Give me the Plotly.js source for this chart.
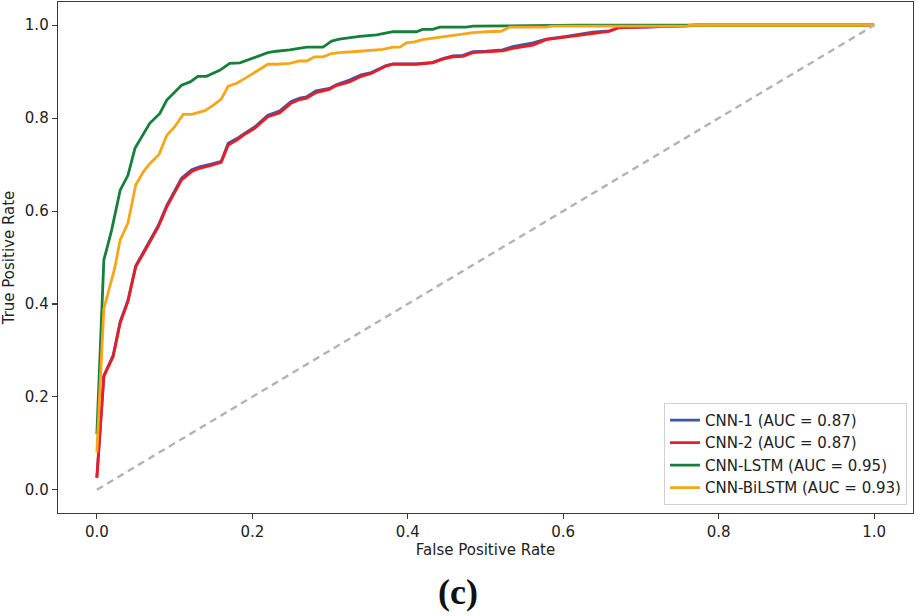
<!DOCTYPE html>
<html>
<head>
<meta charset="utf-8">
<script src="https://cdn.plot.ly/plotly-3.0.1.min.js"></script>
<style>html,body{margin:0;padding:0;background:#fff;}#chart{width:918px;height:616px;}</style>
</head>
<body>
<div id="chart"></div>
<script>
// ---- data ----
const cnn1Fpr = [0,0.009,0.021,0.030,0.040,0.050,0.060,0.070,0.079,0.090,0.109,0.122,0.132,0.147,0.160,0.169,0.180,0.192,0.203,0.220,0.235,0.250,0.261,0.270,0.282,0.299,0.308,0.325,0.340,0.353,0.372,0.381,0.411,0.432,0.445,0.458,0.471,0.484,0.501,0.522,0.535,0.561,0.578,0.604,0.638,0.659,0.672,0.706,0.753,0.77,1];
const cnn1Tpr = [0.026,0.246,0.290,0.362,0.408,0.482,0.512,0.541,0.569,0.612,0.671,0.689,0.695,0.701,0.707,0.746,0.756,0.769,0.781,0.806,0.815,0.836,0.843,0.846,0.859,0.864,0.872,0.882,0.893,0.898,0.913,0.917,0.917,0.920,0.928,0.934,0.935,0.943,0.944,0.947,0.954,0.962,0.970,0.976,0.985,0.988,0.995,0.996,0.998,1.0,1.0];
const cnn2Fpr = [0,0.009,0.021,0.030,0.040,0.050,0.060,0.070,0.079,0.090,0.109,0.122,0.132,0.147,0.160,0.169,0.180,0.192,0.203,0.220,0.235,0.250,0.261,0.270,0.282,0.299,0.308,0.325,0.340,0.353,0.372,0.381,0.411,0.432,0.445,0.458,0.471,0.484,0.501,0.522,0.535,0.561,0.578,0.604,0.638,0.659,0.672,0.706,0.753,0.77,1];
const cnn2Tpr = [0.026,0.244,0.287,0.359,0.405,0.480,0.509,0.538,0.566,0.609,0.667,0.685,0.692,0.698,0.705,0.742,0.753,0.767,0.778,0.803,0.811,0.832,0.840,0.843,0.855,0.862,0.870,0.878,0.890,0.896,0.912,0.916,0.916,0.919,0.927,0.932,0.933,0.941,0.943,0.945,0.950,0.957,0.969,0.975,0.983,0.987,0.995,0.996,0.998,1.0,1.0];
const lstmFpr = [0,0.009,0.013,0.019,0.030,0.040,0.049,0.068,0.081,0.090,0.109,0.120,0.130,0.141,0.158,0.171,0.184,0.205,0.220,0.231,0.248,0.270,0.291,0.302,0.312,0.338,0.360,0.381,0.411,0.419,0.432,0.441,0.475,0.484,0.527,0.62,1.0];
const lstmTpr = [0.12,0.495,0.52,0.559,0.645,0.677,0.735,0.789,0.81,0.839,0.871,0.878,0.890,0.890,0.903,0.918,0.919,0.932,0.941,0.944,0.947,0.953,0.953,0.966,0.970,0.976,0.979,0.986,0.986,0.991,0.991,0.996,0.996,0.998,0.999,1.0,1.0];
const bilstmFpr = [0,0.009,0.023,0.030,0.040,0.050,0.060,0.068,0.080,0.090,0.100,0.111,0.122,0.139,0.150,0.160,0.169,0.180,0.190,0.205,0.220,0.231,0.248,0.261,0.270,0.280,0.291,0.302,0.312,0.338,0.351,0.368,0.381,0.390,0.398,0.409,0.419,0.437,0.458,0.471,0.484,0.501,0.520,0.531,0.578,0.586,0.76,0.762,1];
const bilstmTpr = [0.08,0.39,0.477,0.538,0.574,0.656,0.685,0.702,0.722,0.763,0.781,0.808,0.808,0.816,0.828,0.841,0.869,0.875,0.885,0.900,0.916,0.916,0.918,0.923,0.923,0.932,0.932,0.939,0.941,0.944,0.946,0.948,0.953,0.953,0.962,0.964,0.969,0.973,0.977,0.980,0.984,0.986,0.987,0.996,0.996,0.998,0.998,1.0,1.0];
const chanceLine = [0, 1];
const seriesNames = ['CNN-1 (AUC = 0.87)','CNN-2 (AUC = 0.87)','CNN-LSTM (AUC = 0.95)','CNN-BiLSTM (AUC = 0.93)'];
const tickVals = [0, 0.2, 0.4, 0.6, 0.8, 1.0];
const tickText = ['0.0','0.2','0.4','0.6','0.8','1.0'];

const colors = ['#3f55a6','#ec1c24','#157f3b','#f9a51b'];
const lw = 2.8;
const traces = [
  {x: cnn1Fpr, y: cnn1Tpr, name: seriesNames[0], mode:'lines', line:{color:colors[0], width:lw}},
  {x: cnn2Fpr, y: cnn2Tpr, name: seriesNames[1], mode:'lines', line:{color:colors[1], width:lw}},
  {x: lstmFpr, y: lstmTpr, name: seriesNames[2], mode:'lines', line:{color:colors[2], width:lw}},
  {x: bilstmFpr, y: bilstmTpr, name: seriesNames[3], mode:'lines', line:{color:colors[3], width:lw}},
  {x: chanceLine, y: chanceLine, mode:'lines', showlegend:false, hoverinfo:'skip', line:{color:'#b3b3b3', width:2.4, dash:'7px,5px'}}
];

const fontFam = 'DejaVu Sans';
const axisCommon = {
  range: [-0.05, 1.05],
  tickvals: tickVals, ticktext: tickText,
  showgrid: false, zeroline: false,
  showline: true, linecolor: '#3a3a3a', linewidth: 1.3, mirror: true,
  ticks: 'outside', ticklen: 5, tickwidth: 1.1, tickcolor: '#3a3a3a',
  tickfont: {family: fontFam, size: 15, color: '#222'}
};

const layout = {
  width: 918, height: 616,
  margin: {l: 58, r: 5, t: 2, b: 103},
  paper_bgcolor: '#fff', plot_bgcolor: '#fff',
  showlegend: true,
  xaxis: Object.assign({}, axisCommon, {title: {text: 'False Positive Rate', font: {family: fontFam, size: 15, color:'#222'}, standoff: 4}}),
  yaxis: Object.assign({}, axisCommon, {title: {text: 'True Positive Rate', font: {family: fontFam, size: 15, color:'#222'}, standoff: 6}}),
  legend: {
    x: 0.993, y: 0.016, xanchor: 'right', yanchor: 'bottom',
    bgcolor: 'rgba(255,255,255,0.9)', bordercolor: '#d0d0d0', borderwidth: 1,
    font: {family: fontFam, size: 15, color: '#222'},
    tracegroupgap: 0, itemwidth: 30
  },
  annotations: [{
    text: '<b>(c)</b>', xref: 'paper', yref: 'paper', x: 0.468, y: -0.155,
    xanchor: 'center', yanchor: 'middle', showarrow: false,
    font: {family: 'Liberation Serif', size: 36, color: '#111'}
  }]
};

Plotly.newPlot('chart', traces, layout, {displayModeBar: false, staticPlot: true});
</script>
</body>
</html>
